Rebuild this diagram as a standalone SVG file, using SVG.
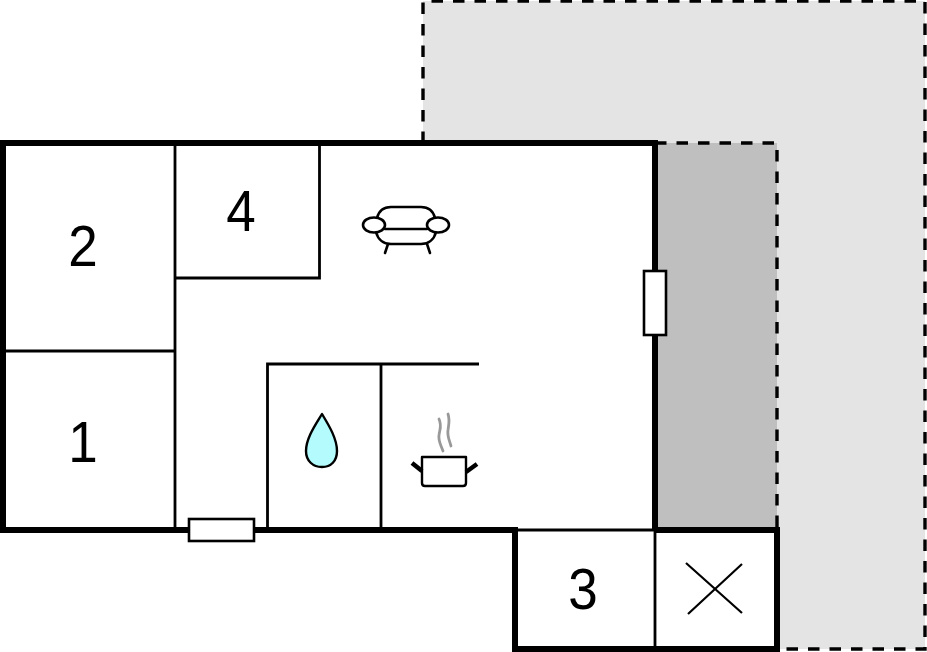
<svg xmlns="http://www.w3.org/2000/svg" width="927" height="652" viewBox="0 0 927 652">
<style>
.dash{fill:none;stroke:#000;stroke-width:3.4;stroke-dasharray:11.5 10}
.wall{fill:none;stroke:#000;stroke-width:6;stroke-linejoin:miter}
.thin{fill:none;stroke:#000;stroke-width:2.8}
.win{fill:#fff;stroke:#000;stroke-width:2.6}
.num{font-family:"Liberation Sans",Arial,sans-serif;font-size:57px;fill:#000;text-anchor:middle}
.ico{fill:#fff;stroke:#000;stroke-width:2.6;stroke-linecap:round;stroke-linejoin:round}
</style>
<rect width="927" height="652" fill="#fff"/>
<g id="terrace-outer">
<polygon points="423,1 925,1 925,649 777,649 777,143 423,143" fill="#e4e4e4"/>
<path class="dash" d="M423,143V1H925V649H780"/>
</g>
<g id="terrace-inner">
<rect x="655" y="143" width="122" height="387" fill="#bfbfbf"/>
<path class="dash" d="M655,143H777V530"/>
</g>
<g id="rooms">
<rect x="3" y="143" width="652" height="387" fill="#fff"/>
<rect x="515" y="530" width="262" height="119" fill="#fff"/>
</g>
<g id="inner-walls">
<path class="thin" d="M175,143V530M3,351H175M175,278H319.5V143M267.5,530V364H479M381,364V530M515,530H655M655,530V649"/>
</g>
<g id="outer-walls">
<path class="wall" d="M655,530V143H3V530H515V649H777V530H655"/>
</g>
<g id="carport-cross">
<path d="M686,563L742,613M688,614L742,564" fill="none" stroke="#000" stroke-width="2.2"/>
</g>
<g id="window-east"><rect class="win" x="644" y="271" width="22" height="64"/></g>
<g id="door-south"><rect class="win" x="189" y="519" width="65" height="22"/></g>
<g id="label-1"><text class="num" transform="translate(83 462) scale(.93 1)">1</text></g>
<g id="label-2"><text class="num" transform="translate(83 266) scale(.93 1)">2</text></g>
<g id="label-3"><text class="num" transform="translate(583 609) scale(.93 1)">3</text></g>
<g id="label-4"><text class="num" transform="translate(241 231) scale(.93 1)">4</text></g>
<g id="sofa">
<path class="ico" d="M377,218C379,210 384,207 391,207H421C428,207 433,210 435,218M376,232C378,240 384,244 391,244H421C428,244 434,240 436,232M385,229H427M388,244L385,253M427,244L430,253"/>
<ellipse class="ico" cx="374" cy="225" rx="11" ry="7.5"/>
<ellipse class="ico" cx="438" cy="225" rx="11" ry="7.5"/>
</g>
<g id="water-drop">
<path d="M322,414C316,424 306,438 306,451C306,461 313,467 322,467C331,467 337,461 337,451C337,438 328,424 322,414Z" fill="#b4fbfd" stroke="#000" stroke-width="2.4" stroke-linejoin="round"/>
</g>
<g id="pot">
<path d="M443,451C441,445 438,441 439,435C440,428 442,426 439,419M451,446C449,439 447,436 448,430C449,423 450,420 448,414" fill="none" stroke="#999" stroke-width="2.8" stroke-linecap="round"/>
<path d="M422,457H466V483Q466,486 463,486H425Q422,486 422,483Z" fill="#fff" stroke="#000" stroke-width="2.4" stroke-linejoin="round"/>
<path d="M412,463L422,471M477,464L466,472" fill="none" stroke="#000" stroke-width="4.5"/>
</g>
</svg>
